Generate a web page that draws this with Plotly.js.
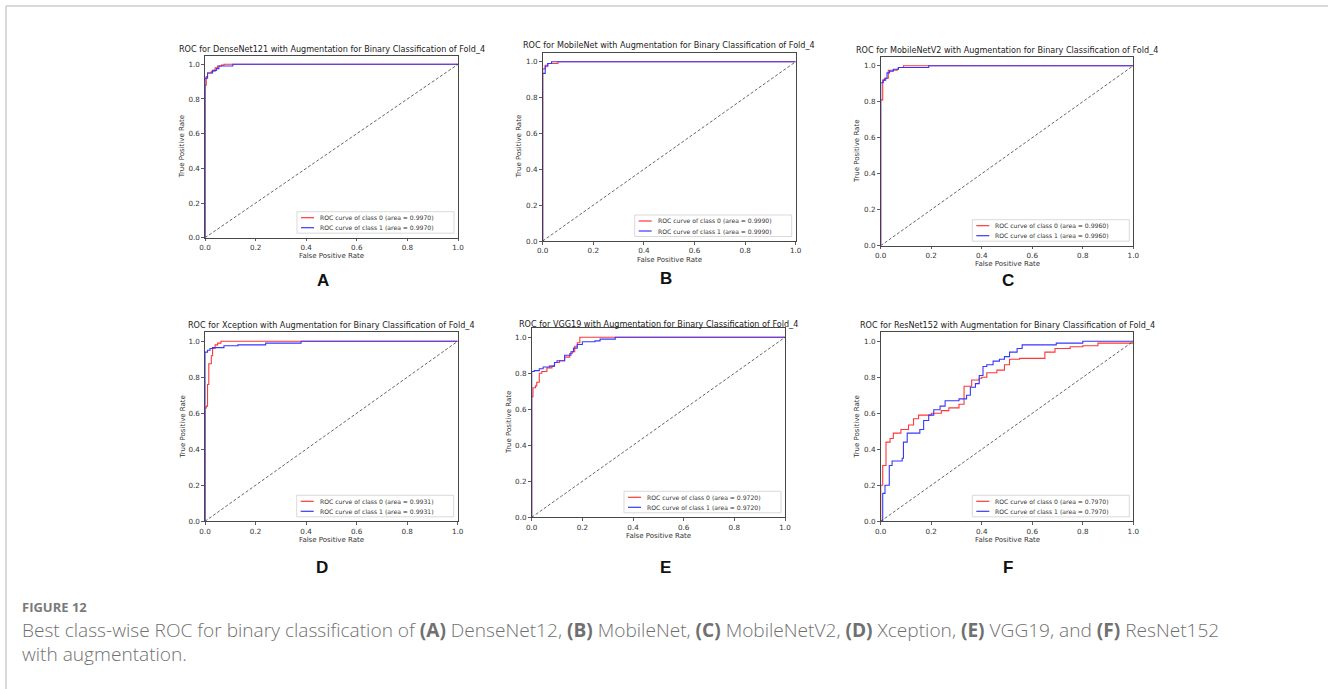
<!DOCTYPE html>
<html><head><meta charset="utf-8">
<script src="https://cdn.plot.ly/plotly-3.0.1.min.js"></script>
<style>html,body{margin:0;padding:0;background:#fff;} #chart{width:1328px;height:689px;}</style>
</head><body><div id="chart"></div>
<script>
// ---------------- DATA ----------------
const modelNames = ['DenseNet121', 'MobileNet', 'MobileNetV2', 'Xception', 'VGG19', 'ResNet152'];
const panelLetters = ['A', 'B', 'C', 'D', 'E', 'F'];
const aucValues = [0.9970, 0.9990, 0.9960, 0.9931, 0.9720, 0.7970];
const classNames = ['0', '1'];
const tickValues = [0, 0.2, 0.4, 0.6, 0.8, 1.0];
const tickLabels = ['0.0', '0.2', '0.4', '0.6', '0.8', '1.0'];
const diagX = [0, 1];
const diagY = [0, 1];

// ROC corner points (fpr, tpr) — step curves
const fprA0 = [0, 0, 0.005, 0.01, 0.025, 0.04, 0.05, 0.065, 0.075, 1];
const tprA0 = [0, 0.88, 0.93, 0.95, 0.96, 0.98, 0.99, 0.995, 1, 1];
const fprA1 = [0, 0, 0.01, 0.03, 0.045, 0.055, 0.11, 1];
const tprA1 = [0, 0.92, 0.95, 0.965, 0.975, 0.99, 1, 1];

const fprB0 = [0, 0, 0.01, 0.02, 0.06, 1];
const tprB0 = [0, 0.96, 0.98, 0.99, 1, 1];
const fprB1 = [0, 0, 0.01, 0.02, 0.035, 1];
const tprB1 = [0, 0.935, 0.975, 0.99, 1, 1];

const fprC0 = [0, 0, 0.008, 0.015, 0.03, 0.065, 0.07, 0.09, 1];
const tprC0 = [0, 0.81, 0.92, 0.93, 0.975, 0.98, 0.99, 1, 1];
const fprC1 = [0, 0, 0.01, 0.02, 0.025, 0.035, 0.05, 0.07, 0.19, 1];
const tprC1 = [0, 0.905, 0.92, 0.93, 0.96, 0.97, 0.98, 0.99, 1, 1];

const fprD0 = [0, 0, 0.005, 0.01, 0.015, 0.025, 0.03, 0.04, 0.05, 0.063, 1];
const tprD0 = [0, 0.63, 0.64, 0.76, 0.875, 0.92, 0.96, 0.98, 0.99, 1, 1];
const fprD1 = [0, 0, 0.01, 0.02, 0.03, 0.075, 0.13, 0.24, 0.38, 1];
const tprD1 = [0, 0.94, 0.95, 0.96, 0.965, 0.975, 0.98, 0.99, 1, 1];

const fprE0 = [0, 0, 0.005, 0.015, 0.02, 0.03, 0.04, 0.06, 0.08, 0.09, 0.11, 0.13, 0.15, 0.16, 0.17, 0.18, 0.19, 1];
const tprE0 = [0, 0.67, 0.72, 0.73, 0.75, 0.80, 0.81, 0.83, 0.84, 0.86, 0.87, 0.89, 0.91, 0.92, 0.95, 0.97, 1, 1];
const fprE1 = [0, 0, 0.01, 0.03, 0.045, 0.07, 0.09, 0.10, 0.13, 0.155, 0.165, 0.18, 0.2, 0.25, 0.27, 0.33, 1];
const tprE1 = [0, 0.81, 0.815, 0.825, 0.835, 0.84, 0.86, 0.87, 0.90, 0.92, 0.94, 0.96, 0.975, 0.98, 0.99, 1, 1];

const fprF0 = [0, 0, 0.008, 0.021, 0.037, 0.05, 0.08, 0.11, 0.13, 0.15, 0.2, 0.24, 0.27, 0.31, 0.33, 0.33, 0.36, 0.39, 0.4, 0.42, 0.46, 0.49, 0.51, 0.55, 0.65, 0.69, 0.75, 0.8, 0.86, 1];
const tprF0 = [0, 0.2, 0.31, 0.44, 0.46, 0.49, 0.51, 0.535, 0.57, 0.59, 0.6, 0.615, 0.63, 0.65, 0.69, 0.75, 0.785, 0.795, 0.8, 0.825, 0.84, 0.87, 0.9, 0.905, 0.94, 0.96, 0.97, 0.975, 0.99, 1];
const fprF1 = [0, 0.008, 0.017, 0.034, 0.045, 0.085, 0.09, 0.105, 0.155, 0.17, 0.19, 0.21, 0.235, 0.255, 0.31, 0.34, 0.355, 0.375, 0.39, 0.405, 0.42, 0.445, 0.47, 0.49, 0.51, 0.54, 0.56, 0.695, 0.8, 1];
const tprF1 = [0, 0.155, 0.2, 0.31, 0.335, 0.35, 0.44, 0.49, 0.51, 0.56, 0.59, 0.62, 0.64, 0.67, 0.68, 0.7, 0.745, 0.765, 0.81, 0.86, 0.87, 0.89, 0.9, 0.915, 0.94, 0.96, 0.98, 0.99, 1, 1];

const curves = [
  [[fprA0, tprA0], [fprA1, tprA1]],
  [[fprB0, tprB0], [fprB1, tprB1]],
  [[fprC0, tprC0], [fprC1, tprC1]],
  [[fprD0, tprD0], [fprD1, tprD1]],
  [[fprE0, tprE0], [fprE1, tprE1]],
  [[fprF0, tprF0], [fprF1, tprF1]]
];

const captionLabel = 'FIGURE 12';
const captionLine1 = 'Best class-wise ROC for binary classification of <b>(A)</b> DenseNet12, <b>(B)</b> MobileNet, <b>(C)</b> MobileNetV2, <b>(D)</b> Xception, <b>(E)</b> VGG19, and <b>(F)</b> ResNet152';
const captionLine2 = 'with augmentation.';

// ---------------- LAYOUT GEOMETRY (pixels) ----------------
const W = 1328, H = 689;
const geom = [
  {L: 205,   R: 458,    y0: 237.7, y1: 64.3,  titleY: 49,    xlabY: 256,   ylabX: 181.7, letX: 323,  letY: 280},
  {L: 542.7, R: 795.7,  y0: 241,   y1: 61.7,  titleY: 45,    xlabY: 259.5, ylabX: 519.3, letX: 666,  letY: 279},
  {L: 880.7, R: 1133.3, y0: 245.7, y1: 65.7,  titleY: 50.3,  xlabY: 264.2, ylabX: 856.7, letX: 1008, letY: 280},
  {L: 205,   R: 457.7,  y0: 521.3, y1: 341.3, titleY: 325.3, xlabY: 540,   ylabX: 182.7, letX: 322,  letY: 567},
  {L: 531.7, R: 785,    y0: 517.3, y1: 337.3, titleY: 324,   xlabY: 536,   ylabX: 508.3, letX: 665,  letY: 567},
  {L: 880.7, R: 1133.3, y0: 521.3, y1: 341.3, titleY: 325.3, xlabY: 540,   ylabX: 856.7, letX: 1008, letY: 567}
];
const px = x => x / W;
const py = y => 1 - y / H;
const lineColors = ['rgb(255,55,55)', 'rgb(55,55,255)'];
const FONT = 'DejaVu Sans, sans-serif';

const traces = [];
const layout = {
  width: W, height: H,
  margin: {l: 0, r: 0, t: 0, b: 0},
  paper_bgcolor: '#fff', plot_bgcolor: '#fff',
  showlegend: false,
  annotations: [], shapes: []
};

geom.forEach((g, i) => {
  const n = i + 1;
  const xa = n === 1 ? 'xaxis' : 'xaxis' + n;
  const ya = n === 1 ? 'yaxis' : 'yaxis' + n;
  const xr = n === 1 ? 'x' : 'x' + n;
  const yr = n === 1 ? 'y' : 'y' + n;
  const top = g.y1 - 0.05 * (g.y0 - g.y1);
  const common = {
    showgrid: false, zeroline: false, showline: true, mirror: true,
    linecolor: '#333', linewidth: 0.9, ticks: 'outside', ticklen: 2.8, tickwidth: 0.8,
    tickcolor: '#333', tickvals: tickValues, ticktext: tickLabels,
    tickfont: {family: FONT, size: 7.2, color: '#333'}, fixedrange: true
  };
  layout[xa] = Object.assign({}, common, {domain: [px(g.L), px(g.R)], range: [0, 1], anchor: yr});
  layout[ya] = Object.assign({}, common, {domain: [py(g.y0), py(top)], range: [0, 1.05], anchor: xr});

  curves[i].forEach((c, k) => {
    traces.push({
      x: c[0], y: c[1], xaxis: xr, yaxis: yr, type: 'scatter', mode: 'lines',
      line: {color: lineColors[k], width: 1.1, shape: 'hv'}, hoverinfo: 'skip',
      name: 'ROC curve of class ' + classNames[k] + ' (area = ' + aucValues[i].toFixed(4) + ')'
    });
  });
  traces.push({
    x: diagX, y: diagY, xaxis: xr, yaxis: yr, type: 'scatter', mode: 'lines',
    line: {color: '#222', width: 0.7, dash: '3px,2px'}, hoverinfo: 'skip'
  });

  const cx = (g.L + g.R) / 2;
  layout.annotations.push({
    text: 'ROC for ' + modelNames[i] + ' with Augmentation for Binary Classification of Fold_4',
    x: px(cx), y: py(g.titleY), xref: 'paper', yref: 'paper', showarrow: false,
    xanchor: 'center', yanchor: 'middle', font: {family: FONT, size: 8.1, color: '#222'}
  });
  layout.annotations.push({
    text: 'False Positive Rate', x: px(cx), y: py(g.xlabY), xref: 'paper', yref: 'paper',
    showarrow: false, xanchor: 'center', yanchor: 'middle', font: {family: FONT, size: 7, color: '#333'}
  });
  layout.annotations.push({
    text: 'True Positive Rate', x: px(g.ylabX), y: py((g.y0 + top) / 2), xref: 'paper', yref: 'paper',
    showarrow: false, textangle: -90, xanchor: 'center', yanchor: 'middle',
    font: {family: FONT, size: 7, color: '#333'}
  });
  layout.annotations.push({
    text: '<b>' + panelLetters[i] + '</b>', x: px(g.letX), y: py(g.letY), xref: 'paper', yref: 'paper',
    showarrow: false, xanchor: 'center', yanchor: 'middle',
    font: {family: 'Liberation Sans, Arial, sans-serif', size: 17, color: '#111'}
  });

  // manual legend box (lower right)
  const bR = g.R - 4, bB = g.y0 - 4.5, bW = 157, bH = 21.5;
  const bL = bR - bW, bT = bB - bH;
  layout.shapes.push({
    type: 'rect', xref: 'paper', yref: 'paper', x0: px(bL), x1: px(bR), y0: py(bB), y1: py(bT),
    line: {color: '#cfcfcf', width: 0.8}, fillcolor: 'rgba(255,255,255,0.85)', layer: 'above'
  });
  [bB - 15.5, bB - 5.5].forEach((ry, k) => {
    layout.shapes.push({
      type: 'line', xref: 'paper', yref: 'paper', x0: px(bL + 4), x1: px(bL + 17), y0: py(ry), y1: py(ry),
      line: {color: lineColors[k], width: 1.2}, layer: 'above'
    });
    layout.annotations.push({
      text: 'ROC curve of class ' + classNames[k] + ' (area = ' + aucValues[i].toFixed(4) + ')',
      x: px(bL + 21), y: py(ry), xref: 'paper', yref: 'paper', showarrow: false,
      xanchor: 'left', yanchor: 'middle', font: {family: FONT, size: 6.1, color: '#333'}
    });
  });
});

// frame lines
layout.shapes.push({type: 'line', xref: 'paper', yref: 'paper', x0: px(6), x1: px(1328), y0: py(6), y1: py(6), line: {color: '#cccccc', width: 1.5}});
layout.shapes.push({type: 'line', xref: 'paper', yref: 'paper', x0: px(6), x1: px(6), y0: py(6), y1: py(689), line: {color: '#cccccc', width: 1.5}});

// caption
layout.annotations.push({
  text: '<b>' + captionLabel + '</b>', x: px(20), y: py(607), xref: 'paper', yref: 'paper', showarrow: false,
  xanchor: 'left', yanchor: 'middle', font: {family: 'Open Sans, sans-serif', size: 13, color: '#7a7a7a'}
});
layout.annotations.push({
  text: captionLine1, x: px(20), y: py(630), xref: 'paper', yref: 'paper', showarrow: false,
  xanchor: 'left', yanchor: 'middle', font: {family: 'Open Sans, sans-serif', size: 19.1, color: '#707070', weight: 300}
});
layout.annotations.push({
  text: captionLine2, x: px(20), y: py(654), xref: 'paper', yref: 'paper', showarrow: false,
  xanchor: 'left', yanchor: 'middle', font: {family: 'Open Sans, sans-serif', size: 19.1, color: '#707070', weight: 300}
});

Plotly.newPlot('chart', traces, layout, {staticPlot: true, displayModeBar: false});
</script>
</body></html>
